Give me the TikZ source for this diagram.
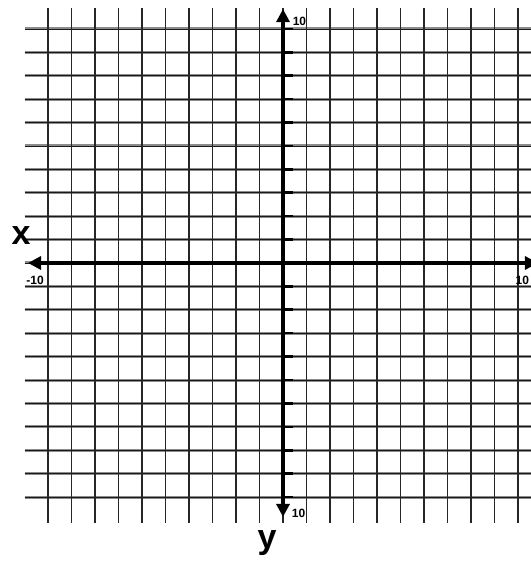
\documentclass[tikz,border=0pt]{standalone}
\usepackage{fontspec}
\setsansfont{Liberation Sans}
\usetikzlibrary{arrows.meta}
\tikzset{
  vline/.style={draw=black!85, line width=1.7pt},
  hline/.style={draw=black!45, line width=3pt},
  hcore/.style={draw=black!90, line width=0.9pt},
  axis/.style={draw=black, line width=3.6pt, -{Triangle[length=13pt,width=13pt]}},
  tick/.style={draw=black, line width=2.6pt},
  numlabel/.style={font=\sffamily\bfseries\fontsize{12}{12}\selectfont, inner sep=0pt},
  axislabel/.style={font=\sffamily\bfseries\fontsize{34}{34}\selectfont, inner sep=0pt, anchor=base}
}
\begin{document}
\begin{tikzpicture}[x=23.5pt,y=23.4pt]
\useasboundingbox[fill=white] (-12.043,-12.735) rectangle (10.511,11.239);
\foreach \i in {-10,...,10} {
  \draw[hline] (-11,\i)--(11,\i);
  \draw[hcore] (-11,\i)--(11,\i);
}
\foreach \i in {-10,...,10} \draw[vline] (\i,-11.1)--(\i,10.9);
\coordinate (xl) at (-10.85,0);
\coordinate (xr) at (10.85,0);
\coordinate (yb) at (0,-10.85);
\coordinate (yt) at (0,10.85);
\coordinate (o) at (0,0);
\draw[axis] (o)--(xl);
\draw[axis] (o)--(xr);
\draw[axis] (o)--(yt);
\draw[axis] (o)--(yb);
\foreach \i in {-10,...,-1,1,2,...,10} \draw[tick] (0,\i)--(0.43,\i);
\node[numlabel] (ntop) at (0.7,10.34) {10};
\node[numlabel] (nbot) at (0.66,-10.68) {10};
\node[numlabel] (nleft) at (-10.55,-0.73) {-10};
\node[numlabel, anchor=east] (nright) at (10.48,-0.73) {10};
\node[axislabel] (xlab) at (-11.15,0.77) {x};
\node[axislabel] (ylab) at (-0.68,-12.22) {y};
\end{tikzpicture}
\end{document}
